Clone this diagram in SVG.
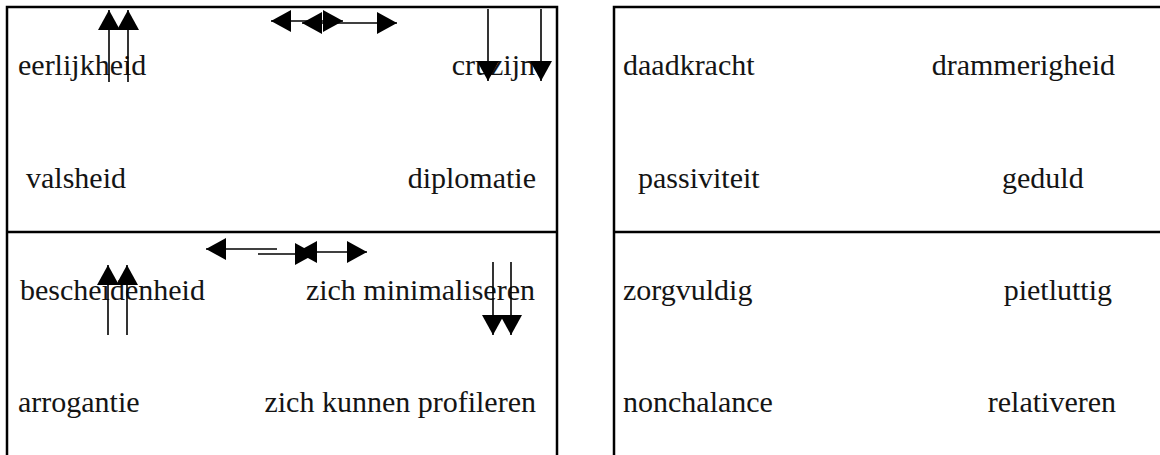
<svg xmlns="http://www.w3.org/2000/svg" width="1160" height="455" viewBox="0 0 1160 455">
  <style>
    .frame { fill: none; stroke: #000; stroke-width: 2.5; }
    .lbl { font-family: "Liberation Serif", "Times New Roman", serif; font-size: 30px; fill: #141414; }
    .end { text-anchor: end; }
    .arr { fill: none; stroke: #000; stroke-width: 1.6; }
  </style>
  <defs>
    <marker id="tip" viewBox="0 0 20 22" refX="20" refY="11" markerWidth="20" markerHeight="22" markerUnits="userSpaceOnUse" orient="auto-start-reverse">
      <path d="M0,0 L20,11 L0,22 Z" fill="#000"/>
    </marker>
  </defs>

  <!-- left quadrant table -->
  <g id="table-left">
    <rect class="frame" x="7" y="7" width="550" height="470"/>
    <line class="frame" x1="7" y1="232" x2="557" y2="232"/>
  </g>
  <g id="eerlijkheid"><text class="lbl" x="18" y="75">eerlijkheid</text></g>
  <g id="cruzijn"><text class="lbl end" x="535" y="75">cruzijn</text></g>
  <g id="valsheid"><text class="lbl" x="26" y="188">valsheid</text></g>
  <g id="diplomatie"><text class="lbl end" x="536" y="188">diplomatie</text></g>
  <g id="bescheidenheid"><text class="lbl" x="20" y="300">bescheidenheid</text></g>
  <g id="zich-minimaliseren"><text class="lbl end" x="535" y="300">zich minimaliseren</text></g>
  <g id="arrogantie"><text class="lbl" x="18" y="412">arrogantie</text></g>
  <g id="zich-kunnen-profileren"><text class="lbl end" x="536" y="412">zich kunnen profileren</text></g>

  <!-- right quadrant table -->
  <g id="table-right">
    <rect class="frame" x="614" y="7" width="570" height="470"/>
    <line class="frame" x1="614" y1="232" x2="1160" y2="232"/>
  </g>
  <g id="daadkracht"><text class="lbl" x="623" y="75">daadkracht</text></g>
  <g id="drammerigheid"><text class="lbl end" x="1115" y="75">drammerigheid</text></g>
  <g id="passiviteit"><text class="lbl" x="638" y="188">passiviteit</text></g>
  <g id="geduld"><text class="lbl" x="1002" y="188">geduld</text></g>
  <g id="zorgvuldig"><text class="lbl" x="623" y="300">zorgvuldig</text></g>
  <g id="pietluttig"><text class="lbl end" x="1112" y="300">pietluttig</text></g>
  <g id="nonchalance"><text class="lbl" x="623" y="412">nonchalance</text></g>
  <g id="relativeren"><text class="lbl end" x="1116" y="412">relativeren</text></g>

  <!-- arrows -->
  <g id="connectors">
    <!-- upper half -->
    <line class="arr" x1="109" y1="82" x2="109" y2="10" marker-end="url(#tip)"/>
    <line class="arr" x1="128" y1="82" x2="128" y2="10" marker-end="url(#tip)"/>
    <line class="arr" x1="271" y1="21" x2="343" y2="21" marker-start="url(#tip)" marker-end="url(#tip)"/>
    <line class="arr" x1="302" y1="23" x2="397" y2="23" marker-start="url(#tip)" marker-end="url(#tip)"/>
    <line class="arr" x1="488" y1="9" x2="488" y2="81" marker-end="url(#tip)"/>
    <line class="arr" x1="541" y1="9" x2="541" y2="81" marker-end="url(#tip)"/>
    <!-- lower half -->
    <line class="arr" x1="108" y1="335" x2="108" y2="265" marker-end="url(#tip)"/>
    <line class="arr" x1="127" y1="335" x2="127" y2="265" marker-end="url(#tip)"/>
    <line class="arr" x1="277" y1="249" x2="206" y2="249" marker-end="url(#tip)"/>
    <line class="arr" x1="297" y1="252" x2="367" y2="252" marker-start="url(#tip)" marker-end="url(#tip)"/>
    <line class="arr" x1="258" y1="254" x2="315" y2="254" marker-end="url(#tip)"/>
    <line class="arr" x1="493" y1="262" x2="493" y2="335" marker-end="url(#tip)"/>
    <line class="arr" x1="511" y1="262" x2="511" y2="335" marker-end="url(#tip)"/>
  </g>
</svg>
